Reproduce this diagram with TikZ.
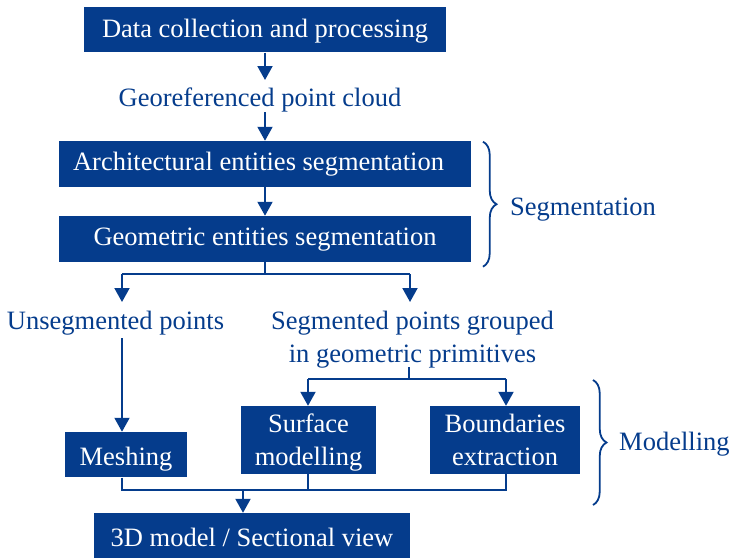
\documentclass[tikz,border=0pt]{standalone}
\usepackage{fontspec}
\setmainfont{Liberation Serif}
\usetikzlibrary{arrows.meta,decorations.pathreplacing}
\definecolor{mblue}{RGB}{5,60,140}
\newcommand{\twol}[2]{\begin{tabular}[b]{@{}c@{}}#1\\#2\end{tabular}}
\newcommand{\twot}[2]{\begin{tabular}[t]{@{}c@{}}#1\\#2\end{tabular}}
\begin{document}
\begin{tikzpicture}[x=1pt,y=-1pt,
  box/.style={fill=mblue,text=white,inner sep=0pt,align=center,font=\fontsize{26.5}{32.8}\selectfont},
  lbl/.style={text=mblue,inner sep=0pt,align=center,font=\fontsize{26.5}{32.8}\selectfont},
  ln/.style={draw=mblue,line width=2pt},
  arr/.style={ln,-{Triangle[width=15pt,length=14pt]}},
  brc/.style={draw=mblue,line width=1.8pt,decorate,decoration={brace,amplitude=13.5pt}}]
\useasboundingbox (0,0) rectangle (734,558);
% boxes
\node[box,minimum width=362pt,minimum height=45.3pt,text height=20pt,text depth=4pt] (data) at (265,29.7) {Data collection and processing};
\node[lbl,anchor=base] (geo) at (260,106) {Georeferenced point cloud};
\node[box,minimum width=412pt,minimum height=45.7pt,text height=19pt,text depth=5.2pt] (arch) at (265,163.8) {Architectural entities segmentation\hspace{13pt}};
\node[box,minimum width=412pt,minimum height=45.7pt,text height=18.4pt,text depth=6pt] (geom) at (265,238.8) {Geometric entities segmentation};
\node[lbl,anchor=base] (unseg) at (115.5,329) {Unsegmented points};
\node[lbl,anchor=base] (seg) at (412.5,329.3) {\twot{Segmented points grouped}{in geometric primitives}};
\node[box,minimum width=122pt,minimum height=45.5pt,text height=22.6pt,text depth=2pt] (mesh) at (126,454.7) {Meshing};
\node[box,minimum width=135pt,minimum height=68pt,text height=53.4pt,text depth=2pt] (surf) at (308.5,440) {\twol{Surface}{modelling}};
\node[box,minimum width=150pt,minimum height=68pt,text height=53.4pt,text depth=2pt] (bound) at (505,440) {\twol{Boundaries}{extraction}};
\node[box,minimum width=316pt,minimum height=45pt,text height=24.4pt,text depth=2pt] (model) at (252,535.5) {3D model / Sectional view};
\node[lbl,anchor=base west] (segl) at (510,215) {Segmentation};
\node[lbl,anchor=base west] (modl) at (619,450) {Modelling};
% coordinates
\coordinate (t1) at (265,80);
\coordinate (s2) at (265,112);
\coordinate (j1) at (265,274);
\coordinate (jl) at (122,274);
\coordinate (jr) at (410,274);
\coordinate (tl) at (122,302);
\coordinate (tr) at (410,302);
\coordinate (u1) at (122,338);
\coordinate (v1) at (409,367);
\coordinate (v2) at (409,379);
\coordinate (hl) at (308,379);
\coordinate (hr) at (506,379);
\coordinate (b1) at (122,490);
\coordinate (b2) at (308,490);
\coordinate (b3) at (506,490);
\coordinate (bm) at (243,490);
% connectors
\draw[arr] (data.south) -- (t1);
\draw[arr] (s2) -- (arch.north);
\draw[arr] (arch.south) -- (geom.north);
\draw[ln] (geom.south) -- (j1);
\draw[ln] (jl) -- (jr);
\draw[arr] (jl) -- (tl);
\draw[arr] (jr) -- (tr);
\draw[arr] (u1) -- (mesh.north -| u1);
\draw[ln] (v1) -- (v2);
\draw[ln] (hl) -- (hr);
\draw[arr] (hl) -- (surf.north -| hl);
\draw[arr] (hr) -- (bound.north -| hr);
\draw[ln] (mesh.south -| b1) -- (b1) -- (b3) -- (bound.south -| b3);
\draw[ln] (surf.south -| b2) -- (b2);
\draw[arr] (bm) -- (model.north -| bm);
% braces
\draw[brc] (483,141.7) -- (483,266.7);
\draw[brc] (593,380) -- (593,505);
\end{tikzpicture}
\end{document}
